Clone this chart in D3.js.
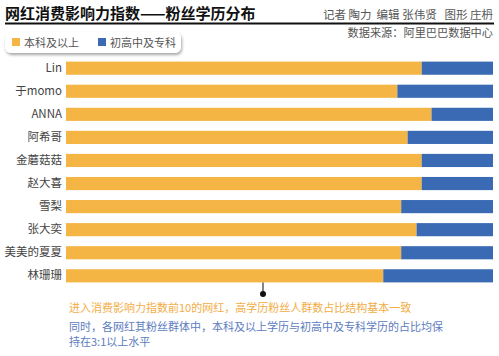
<!DOCTYPE html>
<html><head><meta charset="utf-8">
<script src="https://cdn.jsdelivr.net/npm/d3@7"></script>
<style>
body{margin:0;background:#fff;}
svg{display:block;font-family:"Noto Sans CJK SC","Noto Sans",sans-serif;}
</style></head>
<body>
<svg id="c" width="499" height="356"></svg>
<script>
const names = ["Lin","于momo","ANNA","阿希哥","金蘑菇菇","赵大喜","雪梨","张大奕","美美的夏夏","林珊珊"];
const higherEdu = [83.3,77.6,85.6,80.0,83.3,83.3,78.5,82.1,78.5,74.3];
const lowerEdu = higherEdu.map(v => +(100 - v).toFixed(1));
const seriesNames = ["本科及以上","初高中及专科"];
const colors = ["#F4B544","#3B6AB5"];

const svg = d3.select("#c");
const defs = svg.append("defs");
const f = defs.append("filter").attr("id","sh").attr("x","-10%").attr("y","-30%").attr("width","120%").attr("height","180%");
f.append("feDropShadow").attr("dx",1).attr("dy",2).attr("stdDeviation",1.5).attr("flood-color","#000").attr("flood-opacity",0.35);

// Title
svg.append("text").attr("x",5).attr("y",19).attr("font-size",15).attr("font-weight","bold").attr("fill","#111")
  .text("网红消费影响力指数——粉丝学历分布");
svg.append("rect").attr("x",5).attr("y",22.5).attr("width",489).attr("height",2).attr("fill","#111");
svg.append("text").attr("x",493).attr("y",19).attr("text-anchor","end").attr("font-size",11.5).attr("fill","#555")
  .attr("xml:space","preserve").text("记者 陶力  编辑 张伟贤   图形 庄枬");
svg.append("text").attr("x",493).attr("y",37).attr("text-anchor","end").attr("font-size",11.2).attr("fill","#555")
  .text("数据来源：阿里巴巴数据中心");

// Legend
const lg = svg.append("g");
lg.append("rect").attr("x",5).attr("y",32).attr("width",176).attr("height",21).attr("rx",6)
  .attr("fill","#fff").attr("filter","url(#sh)");
const lx = [12,98];
seriesNames.forEach((n,i)=>{
  lg.append("rect").attr("x",lx[i]).attr("y",38).attr("width",8).attr("height",8).attr("fill",colors[i]);
  lg.append("text").attr("x",lx[i]+12).attr("y",46.5).attr("font-size",11).attr("fill","#555").text(n);
});

// Chart
const x = d3.scaleLinear().domain([0,100]).range([66,493]);
const y = d3.scaleBand().domain(names).range([57,287]).paddingInner(0.43).paddingOuter(0.2);
const data = names.map((n,i)=>({name:n, a:higherEdu[i], b:lowerEdu[i]}));
const stack = d3.stack().keys(["a","b"])(data);
svg.append("g").selectAll("g").data(stack).join("g").attr("fill",(d,i)=>colors[i])
  .selectAll("rect").data(d=>d).join("rect")
  .attr("x",d=>x(d[0])).attr("width",d=>x(d[1])-x(d[0]))
  .attr("y",d=>y(d.data.name)).attr("height",y.bandwidth());

const ax = svg.append("g").attr("transform","translate(62,0)").call(d3.axisLeft(y).tickSize(0).tickPadding(0));
ax.select(".domain").remove();
ax.selectAll("text").attr("font-size",11.5).attr("fill","#444").attr("font-family","\"Noto Sans CJK SC\",sans-serif");

// Annotation
const ay = y(names[names.length-1]) + y.bandwidth();
svg.append("line").attr("x1",263).attr("x2",263).attr("y1",ay).attr("y2",294).attr("stroke","#333").attr("stroke-width",1.2);
svg.append("circle").attr("cx",263).attr("cy",294).attr("r",3).attr("fill","#111");
svg.append("text").attr("x",69).attr("y",312).attr("font-size",11).attr("fill","#F2AD45")
  .text("进入消费影响力指数前10的网红，高学历粉丝人群数占比结构基本一致");
svg.append("text").attr("x",69).attr("y",331).attr("font-size",11).attr("fill","#5C7CBF")
  .text("同时，各网红其粉丝群体中，本科及以上学历与初高中及专科学历的占比均保");
svg.append("text").attr("x",69).attr("y",346).attr("font-size",11).attr("fill","#5C7CBF")
  .text("持在3:1以上水平");
</script>
</body></html>
